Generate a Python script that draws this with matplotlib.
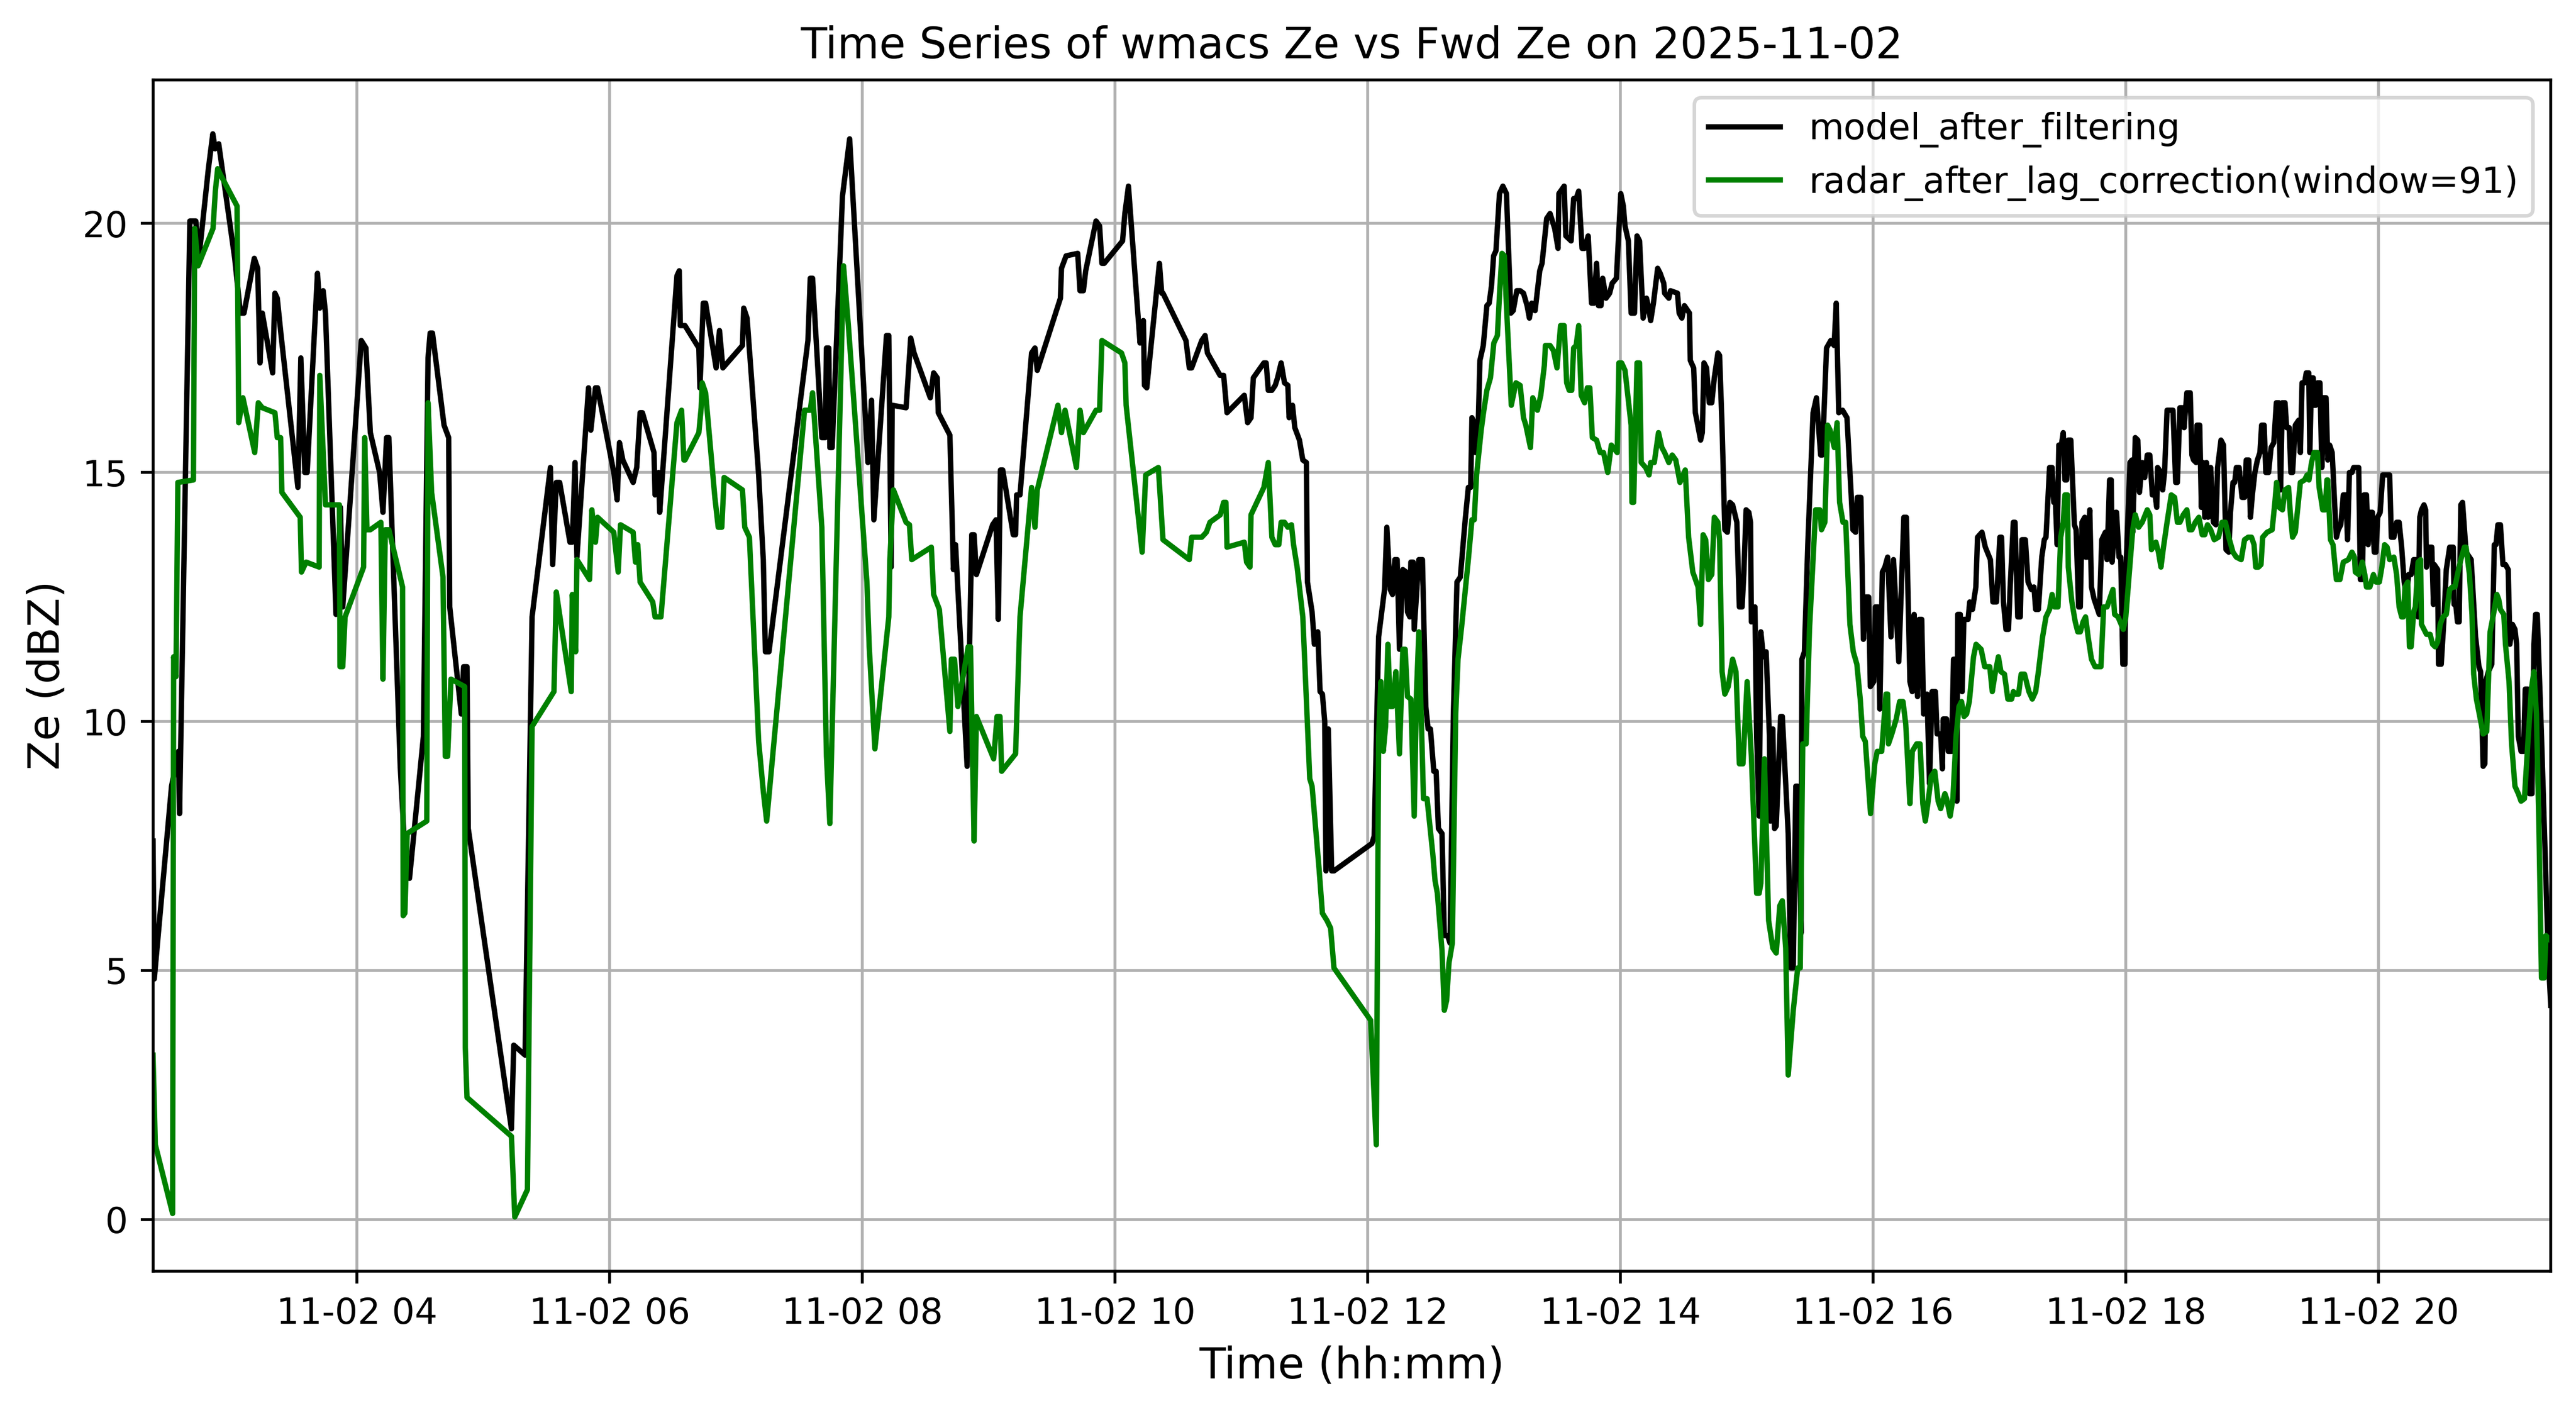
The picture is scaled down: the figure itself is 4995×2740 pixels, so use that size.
import matplotlib
matplotlib.use('Agg')
import matplotlib.pyplot as plt
import matplotlib.dates as mdates
import pandas as pd

BASE = pd.Timestamp('2025-11-02 04:00')

# minutes relative to 04:00 and Ze (dBZ) for the model series
model_minutes = [
    -96.8, -96.2, -88.0, -84.7, -84.2, -79.3, -76.5, -74.9, -70.5, -68.4, -67.3, -65.6, -58.0, -55.3, -53.6,
    -48.7, -47.1, -46.0, -44.9, -40.0, -38.9, -37.8, -36.1, -28.0, -26.6, -24.7, -23.6, -18.7, -17.6, -16.0,
    -14.9, -9.9, -7.8, -6.7, 2.1, 4.3, 6.4, 10.8, 12.4, 14.1, 15.2, 20.6, 23.4, 25.0, 31.6, 33.8, 34.8, 35.9,
    41.4, 43.6, 44.1, 49.6, 50.7, 52.3, 52.9,
    73.4, 74.5, 79.9, 83.2, 91.9, 93.0, 94.7, 96.3, 101.2, 102.3, 103.6, 104.5, 110.0, 111.1, 113.3, 114.3,
    122.0, 123.6, 124.7, 126.3, 131.2, 132.9, 134.5, 135.6, 141.1, 141.6, 143.3, 143.8, 152.0, 153.1, 153.6,
    155.8, 162.4, 162.9, 164.5, 165.6, 170.6, 172.2, 173.8, 183.1, 183.7, 185.3, 190.8, 193.0, 194.0, 195.7,
    214.2, 215.3, 216.4, 220.8, 222.4, 223.0, 224.1, 224.6, 225.7, 230.6, 234.0,
    242.7, 244.4, 245.5, 251.5, 252.6, 253.7, 254.2, 260.8, 263.0, 264.6, 272.3, 273.9, 275.6, 276.1, 281.6,
    283.3, 284.3, 289.8, 292.0, 293.1, 294.2, 301.9, 303.5, 304.6, 305.6, 306.7, 311.7, 312.8, 313.3, 314.9,
    320.4, 322.0, 323.1, 334.1, 334.6, 336.8, 342.3, 343.4, 345.0, 346.1, 351.0, 352.7, 353.8, 354.9, 363.6,
    364.7, 366.4, 371.9, 373.5, 374.0, 375.1, 381.1, 382.2, 382.8, 393.7, 395.3, 396.4,
    401.2, 402.8, 403.9, 409.9, 411.6, 413.2, 421.4, 423.0, 424.6, 425.7, 430.7, 431.8, 432.8, 434.5, 436.1,
    437.2, 438.9, 440.5, 442.1, 442.7, 444.3, 445.4, 447.6, 449.2, 450.9, 451.4, 453.6, 454.7, 456.3, 457.4,
    458.5, 459.6, 460.2, 461.3, 462.9, 464.0, 482.0, 483.1, 485.2, 488.0, 489.1, 490.7, 491.8, 492.9, 494.0,
    495.1, 496.7, 498.3, 498.9, 500.0, 500.5, 501.6, 502.1, 504.3, 506.0, 507.6, 508.7, 509.8, 511.4, 512.5,
    513.6, 515.3, 516.4, 518.0, 519.1, 520.7, 522.4, 524.0, 526.2, 527.8, 528.9, 529.5, 530.6, 531.1, 532.2,
    533.3, 534.9, 536.6, 537.7, 538.8, 539.8, 540.9, 542.6, 544.2, 545.9, 548.0, 549.1, 550.8, 552.4, 554.0,
    555.7, 556.8, 557.9, 559.5, 561.7, 562.8, 565.0, 566.6, 568.8, 570.4,
    570.8, 573.3, 574.1, 576.6, 577.8, 579.0, 580.2, 581.8, 583.0, 584.7, 586.3, 587.5, 588.7, 589.6, 590.8,
    591.6, 593.2, 594.9, 596.1, 598.1, 600.2, 601.4, 602.2, 603.8, 605.1, 606.7, 607.9, 609.1, 610.8, 612.4,
    613.2, 614.4, 615.7, 617.7, 618.9, 620.6, 621.0, 623.0, 623.8, 627.1, 627.9, 629.2, 630.4, 632.8, 633.2,
    634.8, 635.6, 638.1, 638.9, 639.7, 640.9, 642.2, 643.4, 644.6, 646.3, 647.1, 648.3, 649.6, 650.8, 652.0,
    653.3, 655.3, 656.5, 657.8, 658.6, 659.7, 661.0, 661.8, 662.2, 663.9, 664.7, 665.9, 666.7, 667.9, 669.2,
    670.8, 671.2, 672.4, 673.2, 674.0, 674.9, 676.1, 676.9,
    679.7, 680.9, 682.1, 683.3, 684.2, 685.8, 686.2, 687.4, 689.0, 691.5, 693.1, 695.1, 695.9, 697.9, 699.9,
    701.5, 702.5, 703.7, 705.5, 707.6, 709.6, 710.4, 711.7, 712.5, 714.2, 715.4, 716.6, 717.9, 718.7, 720.3,
    721.1, 722.3, 723.2, 724.4, 725.6, 726.9, 728.5, 729.7, 732.2, 734.6, 735.8, 737.5, 738.6, 739.5, 741.1,
    741.9, 743.1, 744.0, 745.6, 746.8, 748.0, 749.6, 750.4, 752.1, 752.9, 753.3, 754.9, 755.7, 757.3, 758.2,
    759.4, 759.8, 760.2, 761.4, 762.3, 763.1, 765.1, 765.9, 767.2, 768.8, 769.6, 771.7, 773.3, 775.7, 776.9,
    778.6, 780.2, 781.0, 781.9, 783.1, 784.3, 785.1,
    786.6, 787.4, 788.7, 789.9, 790.7, 792.3, 793.6, 795.2, 796.4, 797.2, 798.5, 800.1, 801.3, 802.1, 803.8,
    805.0, 805.8, 806.6, 807.4, 808.2, 809.4, 810.3, 811.1, 811.9, 812.7, 813.9, 815.6, 816.4, 817.6, 818.4,
    819.2, 820.5, 820.9, 821.7, 822.9, 823.7, 825.0, 826.2, 827.4, 828.6, 830.3, 831.1, 832.3, 833.1, 833.5,
    835.2, 835.6, 836.8, 837.6, 838.6, 839.6, 840.0, 842.0, 842.9, 843.3, 844.5, 845.7, 846.5, 847.8, 849.0,
    850.2, 851.4, 852.6, 853.9, 854.7, 855.1, 856.7, 857.5, 858.4, 859.6, 861.2, 862.4, 863.7, 864.5, 865.7,
    866.9, 867.7, 869.0, 870.6, 871.4, 872.2, 873.4, 873.8, 875.1, 875.9, 876.7, 877.5, 878.3, 879.1, 880.3,
    881.6, 882.8, 883.6, 885.2, 886.4, 887.6, 888.9, 889.7, 890.9, 891.7, 892.5, 893.8,
    895.2, 896.4, 897.2, 898.4, 899.2, 900.1, 901.3, 902.5, 903.7, 904.5, 905.7, 906.5, 907.8, 909.0, 910.3,
    911.5, 912.7, 913.5, 914.3, 915.6, 916.4, 917.6, 918.4, 919.2, 920.5, 922.1, 922.9, 923.7, 924.9, 925.7,
    926.9, 927.4, 928.2, 929.0, 929.4, 930.2, 931.0, 932.2, 933.1, 933.9, 935.1, 935.9, 936.8, 938.0, 939.2,
    940.0, 940.9, 942.1, 943.3, 944.5, 945.3, 946.2, 947.4, 948.2, 949.4, 950.6, 951.4, 952.3, 953.1, 954.3,
    955.1, 955.9, 957.1, 958.0, 958.8, 959.6, 960.8, 962.0, 963.3, 964.5, 965.3, 966.1, 967.3, 968.6, 969.8,
    971.0, 972.2, 973.4, 974.3, 975.5, 976.7, 977.9, 978.8, 979.6, 980.4,
    981.6, 982.4, 982.8, 983.6, 985.3, 986.1, 986.5, 988.1, 988.5, 989.8, 991.0, 992.2, 993.8, 995.5, 995.9,
    996.7, 997.5, 998.3, 999.1, 999.9, 1001.6, 1004.0, 1006.1, 1007.7, 1008.5, 1009.7, 1010.5, 1010.9, 1012.2,
    1013.8, 1015.0, 1015.8, 1016.7, 1017.9, 1019.1, 1020.3, 1021.6, 1022.4, 1023.6, 1024.8, 1025.6, 1026.4,
    1027.7, 1028.9, 1029.7, 1030.9, 1031.7, 1032.9, 1033.8, 1034.6, 1035.4, 1037.4, 1039.1, 1039.9, 1040.7,
    1041.8,
]
model_ze = [
    7.6, 4.83, 8.7, 9.4, 8.15, 20.05, 20.05, 19.35, 21.1, 21.8, 21.5, 21.6, 19.3, 18.2, 18.2,
    19.3, 19.1, 17.2, 18.2, 17.0, 18.6, 18.5, 17.8, 14.7, 17.3, 15.0, 15.0, 19.0, 18.3, 18.65,
    18.2, 12.15, 14.3, 12.3, 17.65, 17.5, 15.8, 15.0, 14.2, 15.7, 15.7, 9.1, 6.9, 6.85, 9.7, 17.3, 17.8, 17.8,
    15.95, 15.7, 12.3, 10.15, 11.1, 11.1, 7.85,
    1.82, 3.5, 3.3, 12.1, 15.1, 13.15, 14.8, 14.8, 13.6, 13.6, 15.2, 13.3, 16.7, 15.85, 16.7, 16.7,
    15.0, 14.45, 15.6, 15.25, 14.8, 15.1, 16.2, 16.2, 15.4, 14.55, 15.0, 14.2, 18.95, 19.05, 17.95,
    17.95, 17.5, 16.7, 18.4, 18.4, 17.1, 17.85, 17.1, 17.55, 18.3, 18.1, 14.95, 13.25, 11.4, 11.4,
    17.65, 18.9, 18.9, 15.7, 15.7, 17.5, 17.5, 15.5, 15.5, 20.55, 21.7,
    15.2, 16.45, 14.05, 17.75, 17.75, 13.1, 16.35, 16.3, 17.7, 17.4, 16.5, 17.0, 16.9, 16.2, 15.75,
    13.05, 13.55, 9.1, 13.75, 13.75, 12.95, 13.95, 14.05, 12.05, 15.05, 15.05, 13.75, 13.75, 14.55, 14.55,
    17.4, 17.5, 17.05, 18.5, 19.1, 19.35, 19.4, 18.65, 18.65, 19.05, 20.05, 19.95, 19.2, 19.2, 19.65,
    20.2, 20.75, 17.6, 18.05, 16.75, 16.7, 19.2, 18.6, 18.6, 17.65, 17.1, 17.1,
    17.65, 17.75, 17.4, 16.95, 16.95, 16.2, 16.55, 16.0, 16.1, 16.9, 17.2, 17.2, 16.65, 16.65, 16.75,
    16.9, 17.2, 16.8, 16.75, 16.1, 16.35, 15.9, 15.65, 15.25, 15.2, 12.8, 12.2, 11.55, 11.8, 10.6,
    10.55, 10.0, 7.0, 9.85, 7.0, 7.0, 7.55, 7.7, 11.7, 12.65, 13.9, 12.65, 12.55, 13.25, 13.25,
    11.45, 13.05, 13.0, 12.2, 12.1, 13.2, 13.2, 11.85, 13.25, 13.25, 10.3, 9.85, 9.85, 9.0, 9.0,
    7.85, 7.75, 5.7, 5.7, 5.55, 10.15, 12.8, 12.9, 14.0, 14.7, 14.7, 16.1, 16.0, 15.4, 15.5,
    17.25, 17.55, 18.35, 18.4, 18.75, 19.35, 19.45, 20.6, 20.75, 20.6, 18.2, 18.25, 18.65, 18.65, 18.6,
    18.35, 18.1, 18.4, 18.25, 19.05, 19.2, 20.1, 20.2, 19.9, 19.5,
    20.6, 20.75, 19.75, 19.65, 20.5, 20.5, 20.65, 19.5, 19.5, 19.75, 18.4, 18.4, 19.2, 18.35, 18.35,
    18.9, 18.5, 18.6, 18.8, 18.9, 20.6, 20.35, 19.95, 19.65, 18.2, 18.2, 19.75, 19.65, 18.1, 18.5,
    18.35, 18.05, 18.4, 19.1, 19.0, 18.8, 18.6, 18.5, 18.65, 18.6, 18.2, 18.1, 18.35, 18.2, 17.25,
    17.1, 16.2, 15.65, 15.8, 17.2, 17.1, 16.4, 16.4, 16.9, 17.4, 17.35, 15.9, 13.85, 13.8, 14.4,
    14.35, 14.0, 12.3, 12.3, 12.95, 14.25, 14.2, 14.0, 12.0, 12.3, 9.7, 8.1, 11.8, 11.3, 11.4,
    9.7, 8.0, 9.85, 7.85, 7.9, 8.85, 10.1, 10.1,
    7.75, 5.05, 5.05, 8.7, 8.7, 5.75, 11.25, 11.4, 13.55, 16.2, 16.5, 15.35, 15.35, 17.5, 17.65,
    17.55, 18.4, 16.2, 16.25, 16.1, 14.55, 13.85, 13.8, 14.5, 14.5, 11.65, 12.5, 12.5, 10.7, 10.8,
    12.3, 12.3, 10.25, 13.0, 13.1, 13.3, 11.7, 13.25, 11.2, 14.1, 14.1, 10.8, 10.6, 12.15, 10.5,
    12.05, 12.05, 10.15, 10.55, 8.75, 10.6, 10.6, 9.75, 9.75, 9.05, 10.05, 10.05, 9.4, 9.4, 11.25,
    11.25, 8.4, 12.15, 12.15, 10.6, 12.05, 12.05, 12.4, 12.25, 12.7, 13.7, 13.8, 13.5, 13.25, 12.4,
    12.4, 13.7, 13.7, 12.4, 11.85, 11.85, 12.7,
    14.0, 14.0, 12.1, 12.1, 13.65, 13.65, 12.8, 12.65, 12.7, 12.25, 12.25, 13.3, 13.65, 13.7, 15.1,
    15.1, 14.4, 14.4, 13.55, 15.55, 15.55, 15.8, 14.85, 14.85, 15.65, 15.65, 13.95, 13.85, 12.3, 12.3,
    14.0, 14.1, 13.3, 13.3, 14.25, 12.7, 12.45, 12.3, 12.15, 13.65, 13.8, 13.25, 14.85, 14.85, 13.2,
    14.2, 14.2, 13.3, 13.3, 11.15, 11.15, 12.95, 15.2, 15.25, 13.8, 15.7, 15.65, 14.6, 15.2, 14.9,
    15.35, 15.35, 14.55, 14.55, 14.3, 15.1, 15.0, 14.65, 15.0, 16.25, 16.25, 16.25, 14.8, 14.8, 16.3,
    16.3, 15.9, 16.6, 16.6, 15.35, 15.25, 15.2, 15.95, 15.95, 14.3, 15.2, 14.1, 15.2, 14.1, 15.1,
    14.0, 13.95, 15.1, 15.65, 15.55, 13.45, 13.4, 14.2, 14.8, 14.8, 15.1, 15.1,
    14.5, 14.5, 15.25, 15.25, 14.1, 14.55, 15.0, 15.25, 15.4, 15.95, 15.95, 15.0, 15.0, 15.5, 15.6,
    16.4, 16.4, 14.65, 16.4, 16.4, 15.9, 15.9, 15.0, 15.0, 15.95, 16.05, 15.4, 16.8, 16.8, 17.0,
    17.0, 15.4, 16.9, 16.9, 16.35, 16.35, 16.8, 16.8, 15.1, 16.5, 16.5, 15.25, 15.55, 15.4, 14.35,
    13.7, 13.85, 13.95, 14.55, 14.55, 13.65, 15.0, 15.0, 15.1, 15.1, 15.1, 12.85, 12.85, 14.55, 14.55,
    13.55, 14.2, 14.2, 13.4, 13.4, 14.1, 14.2, 14.95, 14.95, 14.95, 14.95, 13.7, 13.7, 14.0, 14.0,
    13.5, 12.8, 12.5, 12.95, 12.95, 13.25, 13.25, 12.1, 14.1, 14.25,
    14.35, 14.25, 13.1, 13.5, 13.5, 12.35, 13.15, 13.05, 11.15, 11.15, 12.0, 13.05, 13.5, 13.5, 12.35,
    12.35, 12.0, 12.0, 14.35, 14.4, 13.4, 13.25, 11.7, 11.1, 11.0, 9.1, 9.15, 10.8, 11.0,
    11.15, 13.55, 13.55, 13.95, 13.95, 13.15, 13.15, 13.05, 11.55, 11.95, 11.85, 11.55, 9.7,
    9.4, 9.4, 10.65, 10.65, 8.55, 8.55, 11.55, 12.15, 12.15, 9.7, 7.4, 6.3, 5.2,
    4.3,
]

# minutes relative to 04:00 and Ze (dBZ) for the lag-corrected radar series
radar_minutes = [
    -96.8, -95.7, -87.5, -87.0, -85.9, -85.0, -77.6, -77.0, -75.4, -68.3, -67.2, -66.1, -65.0, -56.9, -56.1,
    -54.1, -48.5, -46.8, -44.9, -38.9, -37.8, -36.2, -35.6, -26.9, -26.3, -24.1, -17.9, -17.6, -14.9, -8.3,
    -8.0, -6.7, -5.6, 3.2, 3.7, 4.8, 6.4, 11.4, 12.4, 13.5, 15.2, 21.7, 22.0, 22.8, 23.9, 33.2, 33.8, 35.5,
    40.9, 42.0, 43.1, 44.7, 51.2, 51.5, 52.3,
    73.4, 75.0, 81.0, 83.2, 93.6, 94.7, 96.8, 101.8, 102.3, 103.9, 104.5, 110.5, 111.6, 113.3, 114.3,
    122.0, 124.1, 125.2, 131.2, 132.3, 133.4, 134.5, 140.5, 141.6, 144.4, 152.0, 154.2, 155.3, 155.8, 162.4,
    163.5, 164.0, 165.6, 170.0, 171.6, 173.3, 174.4, 183.1, 184.2, 186.4, 190.8, 193.0, 194.6, 212.6, 215.3,
    216.4, 220.8, 223.0, 224.6, 231.1,
    233.4, 242.2, 243.3, 246.0, 252.6, 253.1, 254.8, 260.8, 262.4, 263.5, 272.8, 273.9, 276.6, 281.6, 282.3,
    283.8, 285.4, 290.3, 291.4, 293.1, 294.2, 302.4, 304.0, 305.4, 306.2, 312.8, 314.9, 320.4, 322.0, 323.1,
    332.9, 334.6, 336.3, 341.7, 343.4, 345.0, 351.0, 352.7, 353.8, 363.1, 364.7, 365.3, 372.9, 374.6, 380.6,
    382.8, 395.3, 396.4,
    401.2, 403.4, 405.1, 410.0, 411.6, 412.7, 413.2, 421.4, 422.5, 424.1, 424.6, 430.7, 432.8, 434.5, 436.1,
    437.8, 438.9, 440.5, 442.1, 443.8, 444.8, 446.5, 449.2, 452.5, 453.6, 456.9, 458.5, 460.7, 462.4, 464.0,
    481.4, 484.1, 485.2, 486.3, 487.4, 488.5, 489.6, 490.7, 491.8, 493.4, 495.1, 496.7, 497.8, 498.9, 500.5,
    502.1, 503.2, 504.3, 505.4, 506.5, 508.2, 509.3, 510.9, 512.0, 513.1, 515.3, 516.4, 517.5, 518.6, 520.2,
    521.8, 522.9, 524.6, 527.8, 529.5, 530.6, 531.7, 533.9, 535.0, 536.6, 538.3, 539.9, 541.6, 542.7, 543.8,
    544.9, 545.9, 548.2, 550.4, 552.4, 554.0, 555.1, 557.3, 558.4, 560.6, 562.2, 563.9, 564.4, 566.6, 568.2,
    569.9,
    571.6, 573.3, 574.5, 575.7, 576.9, 577.8, 579.0, 580.2, 581.4, 583.0, 584.3, 585.5, 586.7, 588.7, 590.4,
    592.0, 594.0, 595.7, 598.5, 599.3, 600.6, 602.2, 605.1, 605.5, 606.3, 607.9, 609.1, 609.9, 612.0, 613.6,
    614.4, 616.1, 618.1, 619.7, 621.0, 623.0, 624.6, 626.3, 628.3, 630.8, 632.4, 634.4, 636.9, 638.1, 639.3,
    640.5, 641.8, 643.4, 644.6, 646.3, 647.1, 648.3, 649.6, 651.2, 653.3, 654.9, 656.5, 658.2, 660.2, 662.2,
    664.7, 665.9, 666.7, 668.4, 670.4, 672.4, 674.0, 675.7, 676.9, 678.5,
    679.7, 682.1, 684.2, 685.4, 686.6, 688.2, 689.8, 692.7, 694.7, 695.5, 697.1, 698.4, 699.6, 701.6, 702.9,
    704.1, 705.7, 707.0, 709.0, 710.6, 712.3, 713.9, 715.1, 716.3, 718.8, 720.8, 722.0, 724.1, 726.1, 726.9,
    727.3, 728.9, 731.0, 732.6, 734.2, 735.5, 737.5, 738.6, 740.7, 742.3, 743.6, 744.8, 746.0, 747.6, 749.3,
    750.9, 752.1, 754.1, 754.9, 756.6, 757.9, 759.4, 760.8, 762.0, 763.2, 764.4, 765.7, 767.7, 768.9, 771.3,
    773.0, 775.4, 776.6, 777.9, 779.5, 780.7, 782.4, 784.0,
    785.8, 786.6, 787.8, 789.1, 790.3, 791.9, 794.0, 795.6, 797.2, 798.5, 800.5, 802.1, 803.8, 805.0, 806.2,
    807.8, 809.1, 810.3, 811.1, 812.3, 812.7, 814.4, 816.0, 817.2, 818.4, 819.7, 820.9, 822.1, 823.7, 825.4,
    827.0, 828.2, 829.5, 831.1, 832.3, 833.9, 834.7, 836.3, 838.8, 840.0, 841.6, 843.3, 844.5, 846.1, 847.8,
    850.2, 851.4, 852.2, 854.3, 855.5, 856.7, 857.9, 859.6, 861.6, 863.2, 864.5, 865.7, 867.3, 869.0, 870.2,
    871.4, 873.0, 874.7, 876.3, 877.5, 878.8, 880.3, 882.0, 884.0, 885.7, 887.3, 888.9, 890.9, 892.5,
    894.8, 896.4, 898.1, 899.7, 900.9, 901.7, 903.0, 904.2, 905.0, 907.1, 909.5, 910.8, 911.6, 912.8, 914.4,
    915.6, 917.3, 918.1, 919.2, 920.5, 921.7, 922.9, 924.9, 926.1, 927.0, 928.2, 929.4, 931.0, 931.8, 932.6,
    933.5, 934.7, 935.5, 935.9, 937.2, 938.4, 940.0, 941.7, 943.3, 945.7, 947.4, 948.6, 949.0, 950.6, 952.3,
    953.5, 954.3, 955.9, 957.6, 958.8, 960.4, 961.6, 962.9, 964.1, 965.3, 967.3, 968.6, 969.8, 971.0, 971.8,
    972.6, 973.9, 974.7, 975.5, 976.7, 977.5, 978.8, 980.0, 980.4,
    982.8, 984.5, 985.7, 986.9, 988.1, 989.3, 990.6, 992.2, 993.8, 995.1, 996.3, 997.5, 999.1, 1000.8, 1001.6,
    1003.2, 1004.4, 1005.2, 1006.5, 1008.1, 1009.7, 1011.4, 1013.0, 1014.6, 1016.2, 1017.1, 1017.9, 1019.5,
    1020.3, 1022.0, 1023.2, 1024.8, 1026.4, 1027.7, 1029.3, 1030.9, 1032.6, 1033.8, 1035.0, 1036.2, 1037.4,
    1038.7, 1039.5, 1041.8,
]
radar_ze = [
    3.3, 1.5, 0.12, 11.3, 10.9, 14.8, 14.85, 19.9, 19.15, 19.9, 20.65, 21.1, 21.0, 20.35, 16.0,
    16.5, 15.4, 16.4, 16.3, 16.2, 15.7, 15.7, 14.6, 14.1, 13.0, 13.2, 13.1, 16.95, 14.35, 14.35,
    11.1, 11.1, 12.1, 13.1, 15.7, 13.85, 13.85, 14.0, 10.85, 13.85, 13.85, 12.7, 6.1, 6.15, 7.75, 8.0, 16.4, 14.6,
    12.9, 9.3, 9.3, 10.85, 10.7, 3.45, 2.45,
    1.67, 0.05, 0.6, 9.9, 10.6, 12.6, 12.0, 10.6, 12.55, 11.4, 13.25, 12.85, 14.25, 13.6, 14.1,
    13.8, 13.0, 13.95, 13.8, 13.2, 13.55, 12.8, 12.4, 12.1, 12.1, 16.0, 16.25, 15.25, 15.25, 15.8,
    16.3, 16.8, 16.6, 14.5, 13.9, 13.9, 14.9, 14.65, 13.9, 13.7, 9.6, 8.6, 8.0, 16.25, 16.25,
    16.6, 13.9, 9.3, 7.95, 19.15,
    17.95, 12.8, 11.5, 9.45, 12.1, 13.25, 14.65, 14.0, 13.95, 13.25, 13.5, 12.55, 12.25, 9.8, 11.25,
    11.25, 10.3, 11.5, 11.5, 7.6, 10.1, 9.25, 10.1, 10.1, 9.0, 9.35, 12.1, 14.7, 13.9, 14.65,
    16.35, 15.8, 16.25, 15.1, 16.25, 15.8, 16.25, 16.25, 17.65, 17.4, 17.2, 16.35, 13.4, 14.95, 15.1,
    13.65, 13.25, 13.7,
    13.7, 13.8, 14.0, 14.15, 14.4, 14.4, 13.5, 13.6, 13.2, 13.1, 14.15, 14.7, 15.2, 13.7, 13.55,
    13.55, 14.0, 14.0, 13.9, 13.95, 13.55, 13.1, 12.1, 8.85, 8.7, 7.05, 6.15, 6.0, 5.85, 5.05,
    4.0, 1.5, 9.7, 10.8, 9.4, 9.9, 11.55, 10.3, 10.3, 11.0, 9.35, 11.45, 11.45, 10.5, 10.45,
    8.1, 10.6, 11.8, 10.15, 8.45, 8.45, 8.0, 7.35, 6.8, 6.55, 5.4, 4.2, 4.4, 5.15, 5.55,
    10.15, 11.25, 11.9, 13.25, 14.05, 14.05, 14.95, 15.85, 16.2, 16.65, 16.9, 17.6, 17.75, 18.65, 19.4,
    19.35, 18.35, 16.35, 16.8, 16.75, 16.1, 15.95, 15.5, 16.5, 16.25, 16.55, 17.15, 17.55, 17.55, 17.45,
    17.1,
    17.95, 17.95, 16.8, 16.65, 16.65, 17.5, 17.55, 17.95, 16.55, 16.4, 16.7, 16.7, 15.7, 15.65, 15.4,
    15.4, 15.0, 15.55, 15.4, 17.2, 17.2, 17.05, 15.95, 14.4, 14.4, 17.2, 17.2, 15.2, 15.1, 14.95,
    15.2, 15.2, 15.8, 15.5, 15.4, 15.2, 15.35, 15.25, 14.8, 15.05, 13.7, 13.0, 12.7, 11.95, 13.75,
    13.65, 12.85, 12.95, 14.1, 14.0, 13.65, 11.0, 10.55, 10.7, 11.25, 11.0, 9.15, 9.15, 10.8, 9.3,
    6.55, 6.55, 6.75, 9.25, 6.0, 5.45, 5.35, 6.3, 6.4, 5.45,
    2.9, 4.2, 5.05, 5.05, 9.55, 9.55, 11.85, 14.25, 14.25, 13.85, 14.0, 15.95, 15.85, 15.5, 16.0,
    14.4, 14.0, 14.0, 11.95, 11.4, 11.15, 10.45, 9.7, 9.6, 8.15, 9.15, 9.4, 9.4, 10.55, 10.55,
    9.55, 9.75, 10.05, 10.4, 10.4, 9.95, 8.35, 9.4, 9.55, 9.55, 8.35, 8.0, 8.35, 8.9, 9.0,
    8.4, 8.25, 8.55, 8.45, 8.1, 8.45, 9.7, 10.3, 10.4, 10.1, 10.15, 10.4, 11.3, 11.55, 11.45,
    11.1, 11.1, 10.6, 10.95, 11.3, 11.0, 10.95, 10.45,
    10.45, 10.6, 10.55, 10.55, 10.95, 10.95, 10.6, 10.45, 10.6, 11.0, 11.7, 12.1, 12.25, 12.55, 12.3,
    12.3, 13.7, 14.0, 14.55, 14.55, 13.1, 12.4, 12.0, 11.8, 11.8, 12.0, 12.1, 11.7, 11.25, 11.1,
    11.1, 11.1, 12.3, 12.3, 12.45, 12.65, 12.15, 12.1, 11.85, 12.1, 12.95, 13.85, 14.15, 13.9, 14.0,
    14.25, 14.15, 13.45, 13.6, 13.4, 13.1, 13.5, 14.0, 14.55, 14.5, 14.0, 14.0, 14.15, 14.25, 13.85,
    13.85, 14.0, 14.1, 13.75, 13.75, 13.95, 13.85, 13.65, 13.7, 14.0, 14.0, 13.7, 13.4, 13.3,
    13.25, 13.65, 13.7, 13.7, 13.55, 13.1, 13.1, 13.15, 13.7, 13.8, 13.85, 14.4, 14.8, 14.3, 14.25,
    14.65, 14.7, 14.2, 13.7, 13.8, 14.3, 14.8, 14.85, 14.95, 14.85, 15.2, 15.4, 15.4, 14.7, 14.5,
    14.25, 14.25, 14.85, 14.85, 13.65, 13.55, 12.85, 12.85, 13.2, 13.25, 13.4, 13.3, 13.0, 12.95, 13.2,
    12.95, 12.7, 12.7, 12.95, 12.8, 12.8, 13.1, 13.55, 13.5, 13.25, 13.3, 12.95, 12.3, 12.1, 12.1,
    12.7, 12.8, 11.5, 11.5, 12.2, 12.3, 13.2, 13.25, 11.95,
    11.75, 11.75, 11.55, 11.5, 11.6, 11.95, 12.1, 12.15, 12.65, 12.7, 12.7, 12.95, 13.25, 13.5, 13.5,
    12.95, 12.15, 10.95, 10.45, 10.1, 9.75, 9.8, 11.8, 12.15, 12.55, 12.45, 12.25, 12.15,
    11.55, 10.8, 9.55, 8.7, 8.55, 8.4, 8.45, 9.55, 10.65, 11.0, 10.15, 7.85, 4.85,
    4.85, 5.7, 5.6,
]

model_time = BASE + pd.to_timedelta(model_minutes, unit='m')
radar_time = BASE + pd.to_timedelta(radar_minutes, unit='m')

DPI = 500
fig = plt.figure(figsize=(4995 / DPI, 2740 / DPI), dpi=DPI)
ax = fig.add_axes([0.0594, 0.1004, 0.9902 - 0.0594, 0.9436 - 0.1004])

ax.plot(model_time, model_ze, color='black', linewidth=1.5, label='model_after_filtering')
ax.plot(radar_time, radar_ze, color='green', linewidth=1.5,
        label='radar_after_lag_correction(window=91)')

ax.set_xlim(model_time[0], model_time[-1])
ax.xaxis.set_major_locator(mdates.HourLocator(byhour=range(0, 24, 2)))
ax.xaxis.set_major_formatter(mdates.DateFormatter('%m-%d %H'))

ax.set_title('Time Series of wmacs Ze vs Fwd Ze on 2025-11-02', fontsize=12)
ax.set_xlabel('Time (hh:mm)', fontsize=12)
ax.set_ylabel('Ze (dBZ)', fontsize=12)
ax.grid(True)
ax.legend(loc='upper right')

fig.savefig('out.png', dpi=DPI)
